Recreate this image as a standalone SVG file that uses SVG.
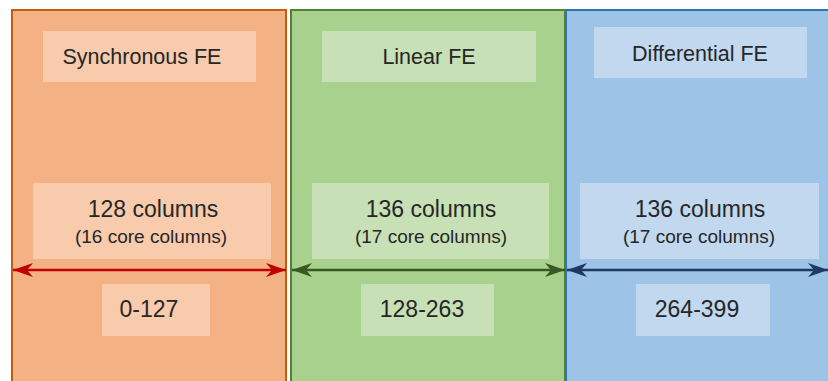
<svg xmlns="http://www.w3.org/2000/svg" width="828" height="381" viewBox="0 0 828 381">
  <style>
    .t { font-family: "Liberation Sans", Arial, sans-serif; fill: #262626; text-anchor: middle; }
    .title { font-size: 21.5px; }
    .main { font-size: 23px; }
    .sub { font-size: 19px; }
    .num { font-size: 23px; }
    .conn { stroke-width: 2.5; fill: none; }
  </style>
  <defs>
    <marker id="ahRed" viewBox="-20 -8 20 16" refX="0" refY="0" markerWidth="20" markerHeight="16" markerUnits="userSpaceOnUse" orient="auto-start-reverse">
      <path d="M0,0 L-20,-7 L-14,0 L-20,7 Z" fill="#c00000"/>
    </marker>
    <marker id="ahGreen" viewBox="-20 -8 20 16" refX="0" refY="0" markerWidth="20" markerHeight="16" markerUnits="userSpaceOnUse" orient="auto-start-reverse">
      <path d="M0,0 L-20,-7 L-14,0 L-20,7 Z" fill="#385723"/>
    </marker>
    <marker id="ahBlue" viewBox="-20 -8 20 16" refX="0" refY="0" markerWidth="20" markerHeight="16" markerUnits="userSpaceOnUse" orient="auto-start-reverse">
      <path d="M0,0 L-20,-7 L-14,0 L-20,7 Z" fill="#1f3864"/>
    </marker>
  </defs>
  <rect x="0" y="0" width="828" height="381" fill="#ffffff"/>

  <g id="sync-fe">
    <rect x="12" y="10" width="274" height="380" fill="#f4b183" stroke="#c55a11" stroke-width="2"/>
    <rect x="43" y="31" width="213" height="51" fill="#f8cbad"/>
    <text class="t title" x="142" y="64">Synchronous FE</text>
    <rect x="33" y="183" width="238" height="76" fill="#f8cbad"/>
    <text class="t main" x="153" y="217">128 columns</text>
    <text class="t sub" x="151" y="243">(16 core columns)</text>
    <rect x="102" y="284" width="108" height="52" fill="#f8cbad"/>
    <text class="t num" x="149" y="317">0-127</text>
  </g>

  <g id="linear-fe">
    <rect x="291" y="10" width="274" height="380" fill="#a9d18e" stroke="#548235" stroke-width="2"/>
    <rect x="322" y="31" width="214" height="51" fill="#c8e0b6"/>
    <text class="t title" x="429" y="63.5">Linear FE</text>
    <rect x="312" y="183" width="237" height="76" fill="#c8e0b6"/>
    <text class="t main" x="431" y="217">136 columns</text>
    <text class="t sub" x="431" y="243">(17 core columns)</text>
    <rect x="361" y="284" width="133" height="52" fill="#c8e0b6"/>
    <text class="t num" x="422" y="317">128-263</text>
  </g>

  <g id="differential-fe">
    <rect x="566" y="10" width="270" height="380" fill="#9dc3e6" stroke="#2e75b6" stroke-width="2"/>
    <rect x="594" y="27" width="213" height="51" fill="#c1d8ef"/>
    <text class="t title" x="700" y="61">Differential FE</text>
    <rect x="580" y="183" width="239" height="76" fill="#c1d8ef"/>
    <text class="t main" x="700" y="217">136 columns</text>
    <text class="t sub" x="699" y="243">(17 core columns)</text>
    <rect x="636" y="284" width="134" height="52" fill="#c1d8ef"/>
    <text class="t num" x="697" y="317">264-399</text>
  </g>

  <g id="connectors">
    <line class="conn" x1="13" y1="270" x2="286" y2="270" stroke="#c00000" marker-start="url(#ahRed)" marker-end="url(#ahRed)"/>
    <line class="conn" x1="292" y1="270" x2="565" y2="270" stroke="#385723" marker-start="url(#ahGreen)" marker-end="url(#ahGreen)"/>
    <line class="conn" x1="567" y1="270" x2="828" y2="270" stroke="#1f3864" marker-start="url(#ahBlue)" marker-end="url(#ahBlue)"/>
  </g>
</svg>
